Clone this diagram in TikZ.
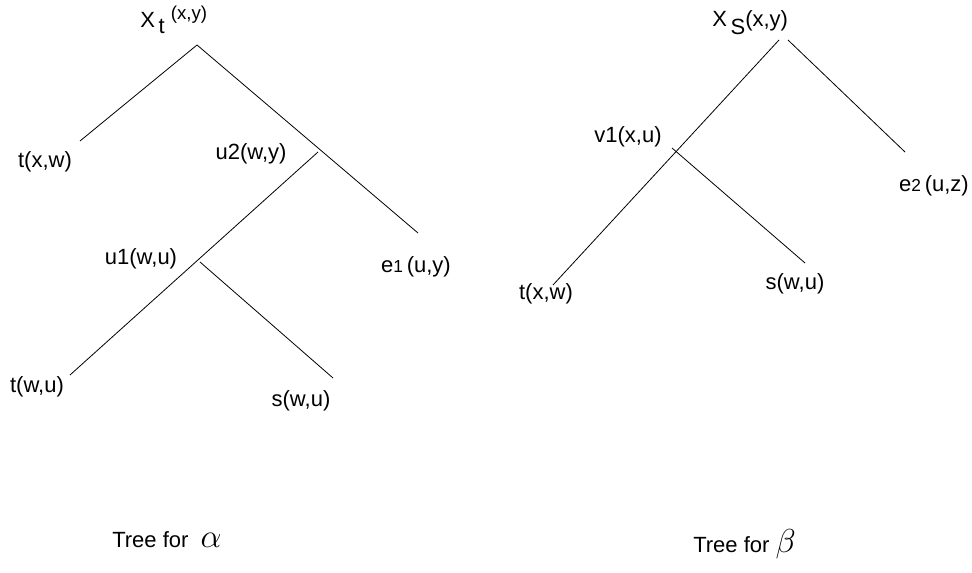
\documentclass[tikz,border=0pt]{standalone}
\usepackage{fontspec}
\setmainfont{Liberation Sans}
\usetikzlibrary{positioning}
\tikzset{
	lbl/.style={inner sep=0pt, anchor=base, font=\fontsize{16.5}{19}\selectfont},
	branch/.style={line width=0.6pt}
}
\newcommand{\smalldigit}[1]{{\fontsize{13}{15}\selectfont #1}}

\begin{document}
\begin{tikzpicture}[x=0.75pt,y=-0.75pt]
	\useasboundingbox (0,0) rectangle (972,573);
	% tree for alpha
	\node[lbl,anchor=base west] (xt) at (140,28) {X\,\raisebox{-4pt}{t}\ \raisebox{6pt}{\fontsize{14}{16}\selectfont(x,y)}};
	\coordinate (ra) at (197,45);
	\coordinate (u2) at (318,152);
	\coordinate (u1) at (200,262);
	\coordinate (la) at (80,141);
	\coordinate (le) at (418,233);
	\coordinate (lt) at (70,375);
	\coordinate (ls) at (333,378);
	\draw[branch] (ra) -- (la);
	\draw[branch] (ra) -- (le);
	\draw[branch] (u2) -- (lt);
	\draw[branch] (u1) -- (ls);
	\node[lbl] (txw) at (45,168) {t(x,w)};
	\node[lbl] (u2l) at (251,160) {u2(w,y)};
	\node[lbl] (u1l) at (141,265) {u1(w,u)};
	\node[lbl] (e1l) at (416,273) {e\smalldigit{1}\,(u,y)};
	\node[lbl] (twu) at (37,393) {t(w,u)};
	\node[lbl] (swu) at (301,407) {s(w,u)};
	\node[lbl,anchor=base west] (ta) at (112,548) {Tree for \ {\fontsize{28}{28}\selectfont$\alpha$}};
	% tree for beta
	\node[lbl,anchor=base west] (xs) at (712,27) {X\,\raisebox{-6pt}{S}(x,y)};
	\coordinate (rb) at (779,40);
	\coordinate (rc) at (788,40);
	\coordinate (v1) at (672,148);
	\coordinate (rt) at (553,285);
	\coordinate (re) at (905,152);
	\coordinate (rs) at (805,263);
	\draw[branch] (rb) -- (rt);
	\draw[branch] (rc) -- (re);
	\draw[branch] (v1) -- (rs);
	\node[lbl] (v1l) at (628,143) {v1(x,u)};
	\node[lbl] (e2l) at (934,192) {e\smalldigit{2}\,(u,z)};
	\node[lbl] (txw2) at (546,300) {t(x,w)};
	\node[lbl] (swu2) at (795,290) {s(w,u)};
	\node[lbl,anchor=base west] (tb) at (693,553) {Tree for {\fontsize{28}{28}\selectfont$\beta$}};
\end{tikzpicture}
\end{document}
